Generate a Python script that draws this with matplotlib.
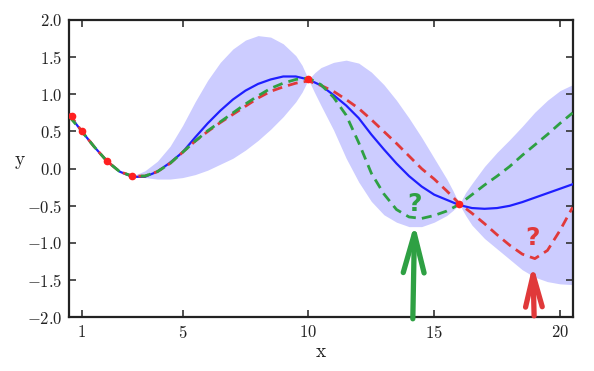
import matplotlib
matplotlib.use("Agg")
import matplotlib.pyplot as plt

# values
x_line = [0.5, 1, 1.5, 2, 2.5, 3, 3.5, 4, 4.5, 5,
          5.5, 6, 6.5, 7, 7.5, 8, 8.5, 9, 9.5, 10,
          10.5, 11, 11.5, 12, 12.5, 13, 13.5, 14, 14.5, 15,
          15.5, 16, 16.5, 17, 17.5, 18, 18.5, 19, 19.5, 20, 20.5]
mean = [0.72, 0.50, 0.29, 0.10, -0.04, -0.11, -0.11, -0.04, 0.08, 0.22,
        0.42, 0.61, 0.78, 0.93, 1.05, 1.14, 1.20, 1.24, 1.24, 1.20,
        1.12, 0.99, 0.85, 0.68, 0.46, 0.26, 0.07, -0.10, -0.24, -0.35,
        -0.42, -0.49, -0.53, -0.54, -0.53, -0.50, -0.45, -0.39, -0.33, -0.27, -0.21]
sample_green = [0.70, 0.50, 0.29, 0.10, -0.04, -0.10, -0.10, -0.04, 0.07, 0.22,
                0.37, 0.51, 0.63, 0.75, 0.87, 0.98, 1.08, 1.15, 1.20, 1.22,
                1.13, 0.96, 0.72, 0.35, -0.06, -0.34, -0.55, -0.65, -0.67, -0.63,
                -0.57, -0.48, -0.35, -0.22, -0.10, 0.03, 0.18, 0.32, 0.46, 0.61, 0.75]
sample_red = [0.74, 0.50, 0.29, 0.10, -0.04, -0.10, -0.10, -0.04, 0.07, 0.22,
              0.37, 0.50, 0.62, 0.73, 0.84, 0.95, 1.04, 1.10, 1.15, 1.18,
              1.12, 1.04, 0.93, 0.81, 0.66, 0.50, 0.34, 0.17, 0.00, -0.14,
              -0.30, -0.47, -0.60, -0.74, -0.89, -1.03, -1.15, -1.21, -1.10, -0.83, -0.52]

x_band = [3, 3.5, 4, 4.5, 5, 5.5, 6, 6.5, 7, 7.5,
          8, 8.5, 9, 9.5, 9.75, 10,
          10.25, 10.5, 11, 11.5, 12, 12.5, 13, 13.5, 14, 14.5,
          15, 15.5, 15.75, 16,
          16.25, 16.5, 17, 17.5, 18, 18.5, 19, 19.5, 20, 20.5]
band_upper = [-0.10, -0.03, 0.10, 0.30, 0.58, 0.90, 1.19, 1.43, 1.61, 1.73,
              1.79, 1.77, 1.68, 1.52, 1.39, 1.20,
              1.29, 1.36, 1.43, 1.46, 1.42, 1.30, 1.13, 0.92, 0.68, 0.42,
              0.14, -0.14, -0.30, -0.48,
              -0.32, -0.20, 0.03, 0.22, 0.39, 0.57, 0.76, 0.92, 1.05, 1.13]
band_lower = [-0.10, -0.12, -0.14, -0.14, -0.12, -0.08, -0.02, 0.06, 0.14, 0.25,
              0.38, 0.53, 0.70, 0.90, 1.03, 1.20,
              1.02, 0.85, 0.52, 0.14, -0.18, -0.44, -0.62, -0.72, -0.78, -0.78,
              -0.72, -0.63, -0.56, -0.48,
              -0.63, -0.76, -0.94, -1.08, -1.22, -1.36, -1.46, -1.52, -1.55, -1.56]

x_obs = [0.6, 1, 2, 3, 10, 16]
y_obs = [0.71, 0.50, 0.10, -0.10, 1.20, -0.48]

# the two hand drawn arrows: (x_tail, y_tail, x_head, y_head), "?" position
arrow_green = [14.15, -2.02, 14.22, -0.74]
arrow_red = [18.97, -1.98, 18.92, -1.29]
qmark_green = [14.22, -0.47]
qmark_red = [18.92, -0.93]

GREEN = "#2ea043"
RED = "#e0393a"
BLUE = "#1f1fff"

plt.rcParams["font.family"] = "cmr10"
plt.rcParams["mathtext.fontset"] = "cm"
plt.rcParams["axes.formatter.use_mathtext"] = True

fig = plt.figure(figsize=(5.94, 3.71), dpi=100)
ax = fig.add_axes([0.1167, 0.1447, 0.8473, 0.8014])

ax.fill_between(x_band, band_lower, band_upper, color="#ccccff", linewidth=0, zorder=1)
ax.plot(x_line, mean, color=BLUE, lw=1.6, zorder=3)
ax.plot(x_line, sample_red, color=RED, lw=2.0, dashes=(3.6, 2.2), zorder=4)
ax.plot(x_line, sample_green, color=GREEN, lw=2.0, dashes=(3.6, 2.2), zorder=4)
ax.plot(x_obs, y_obs, "o", color="#ff2020", ms=4.5, zorder=5)

for arr, col, hl, hw in [(arrow_green, GREEN, 2.8, 0.75), (arrow_red, RED, 2.3, 0.6)]:
    ax.annotate("", xy=(arr[2], arr[3]), xytext=(arr[0], arr[1]),
                arrowprops=dict(arrowstyle="->, head_length=%s, head_width=%s" % (hl, hw),
                                color=col, lw=3.8, mutation_scale=10, shrinkA=0, shrinkB=0),
                annotation_clip=False, zorder=6)
ax.text(qmark_green[0], qmark_green[1], "?", color=GREEN, fontsize=18, fontweight="bold",
        family="DejaVu Sans", ha="center", va="center", zorder=6)
ax.text(qmark_red[0], qmark_red[1], "?", color=RED, fontsize=18, fontweight="bold",
        family="DejaVu Sans", ha="center", va="center", zorder=6)

ax.set_xlim(0.5, 20.5)
ax.set_ylim(-2.0, 2.0)
ax.set_xticks([1, 5, 10, 15, 20])
ax.set_yticks([-2.0, -1.5, -1.0, -0.5, 0.0, 0.5, 1.0, 1.5, 2.0])
ax.set_yticklabels(["$-2.0$", "$-1.5$", "$-1.0$", "$-0.5$", "$0.0$",
                    "$0.5$", "$1.0$", "$1.5$", "$2.0$"])
ax.set_xticklabels(["$1$", "$5$", "$10$", "$15$", "$20$"])
ax.tick_params(direction="in", top=True, right=True, length=5, width=1.2,
               colors="#333333", labelsize=12, labelcolor="#222222", pad=5)
for s in ax.spines.values():
    s.set_linewidth(1.6)
    s.set_color("#222222")

ax.set_xlabel("x", fontsize=14, color="#222222")
ax.set_ylabel("y", fontsize=14, color="#222222", rotation=0)
ax.xaxis.set_label_coords(0.5, -0.085)
ax.yaxis.set_label_coords(-0.098, 0.50)

fig.savefig("out.png", dpi=100)
